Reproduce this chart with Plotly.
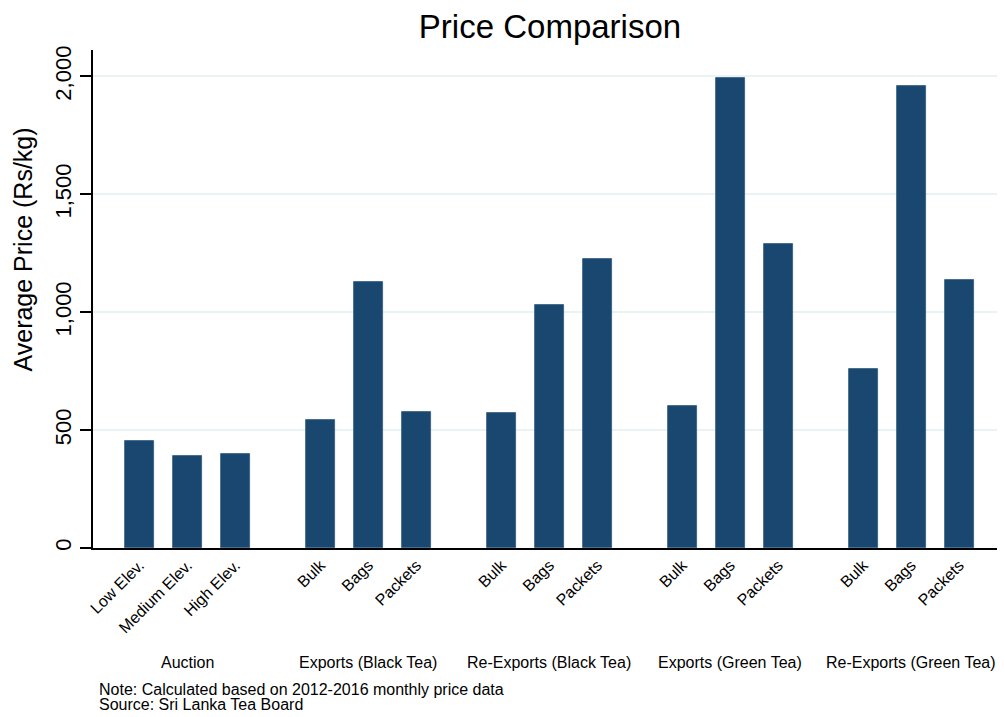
import plotly.graph_objects as go

groups = ["Auction", "Exports (Black Tea)", "Re-Exports (Black Tea)",
          "Exports (Green Tea)", "Re-Exports (Green Tea)"]
auction_labels = ["Low Elev.", "Medium Elev.", "High Elev."]
product_labels = ["Bulk", "Bags", "Packets"]

auction_values = [453, 390, 397]
exports_black = [543, 1128, 577]
reexports_black = [573, 1031, 1226]
exports_green = [602, 1994, 1290]
reexports_green = [759, 1960, 1137]

y_ticks = [0, 500, 1000, 1500, 2000]
y_ticktext = ["0", "500", "1,000", "1,500", "2,000"]

group_values = [auction_values, exports_black, reexports_black, exports_green, reexports_green]
group_labels = [auction_labels] + [product_labels] * 4

GROUP_STEP = 3.77
FONT = "Liberation Sans, Arial, Helvetica, sans-serif"
BAR = "#1a476f"

xs, ys, ticktext = [], [], []
for g, (vals, labs) in enumerate(zip(group_values, group_labels)):
    for i, (v, lab) in enumerate(zip(vals, labs)):
        xs.append(g * GROUP_STEP + i)
        ys.append(v)
        ticktext.append(lab)

fig = go.Figure()
fig.add_trace(go.Bar(
    x=xs, y=ys, width=0.6,
    marker=dict(color=BAR, line=dict(color="#2f5a80", width=0.8)),
    showlegend=False, hoverinfo="y",
))

OFF = 8  # page body margin
W, H = 1005 - OFF, 717 - OFF
AX_L, AX_B, AX_T = 93, 548, 50  # reference pixel positions
M_L = AX_L - OFF
M_T = AX_T - OFF
M_B = H - (AX_B - OFF)
M_R = 0
plot_w = W - M_L - M_R
plot_h = H - M_T - M_B

x_left = -(139.5 - AX_L) / 48
x_right = x_left + plot_w / 48


def py(ref_y):
    return (AX_B - ref_y) / plot_h


def px(ref_x):
    return (ref_x - AX_L) / plot_w


annotations = []
for g, name in enumerate(groups):
    annotations.append(dict(
        x=g * GROUP_STEP + 1, y=py(662), xref="x", yref="paper",
        text=name, showarrow=False, xanchor="center", yanchor="middle",
        font=dict(family=FONT, size=16, color="black"),
    ))

annotations.append(dict(
    x=px(97), y=py(689), xref="paper", yref="paper",
    text="Note: Calculated based on 2012-2016 monthly price data", showarrow=False,
    xanchor="left", yanchor="middle", font=dict(family=FONT, size=16, color="black"),
))
annotations.append(dict(
    x=px(97), y=py(704), xref="paper", yref="paper",
    text="Source: Sri Lanka Tea Board", showarrow=False,
    xanchor="left", yanchor="middle", font=dict(family=FONT, size=16, color="black"),
))
annotations.append(dict(
    x=px(22), y=py(249.5), xref="paper", yref="paper",
    text="Average Price (Rs/kg)", showarrow=False, textangle=-90,
    xanchor="center", yanchor="middle", font=dict(family=FONT, size=25, color="black"),
))

fig.update_layout(
    width=W, height=H,
    margin=dict(l=M_L, r=M_R, t=M_T, b=M_B, pad=0),
    paper_bgcolor="white", plot_bgcolor="white",
    title=dict(text="Price Comparison", x=(550 - OFF) / W, xanchor="center",
               y=1 - (26 - OFF) / H, yanchor="middle",
               font=dict(family=FONT, size=33, color="black")),
    xaxis=dict(
        range=[x_left, x_right], tickmode="array", tickvals=xs, ticktext=ticktext,
        tickangle=-45, ticks="", showgrid=False, zeroline=False,
        showline=True, linecolor="black", linewidth=1.5,
        tickfont=dict(family=FONT, size=16, color="black"),
    ),
    yaxis=dict(
        range=[0, 2112], tickmode="array", tickvals=y_ticks, ticktext=y_ticktext,
        tickangle=-90, ticks="outside", ticklen=11, tickcolor="black", tickwidth=1.5,
        showgrid=True, gridcolor="#eaf2f3", gridwidth=2, zeroline=False,
        showline=True, linecolor="black", linewidth=1.5,
        tickfont=dict(family=FONT, size=22, color="black"),
    ),
    annotations=annotations,
    bargap=0,
)

fig.write_html("out.html")
